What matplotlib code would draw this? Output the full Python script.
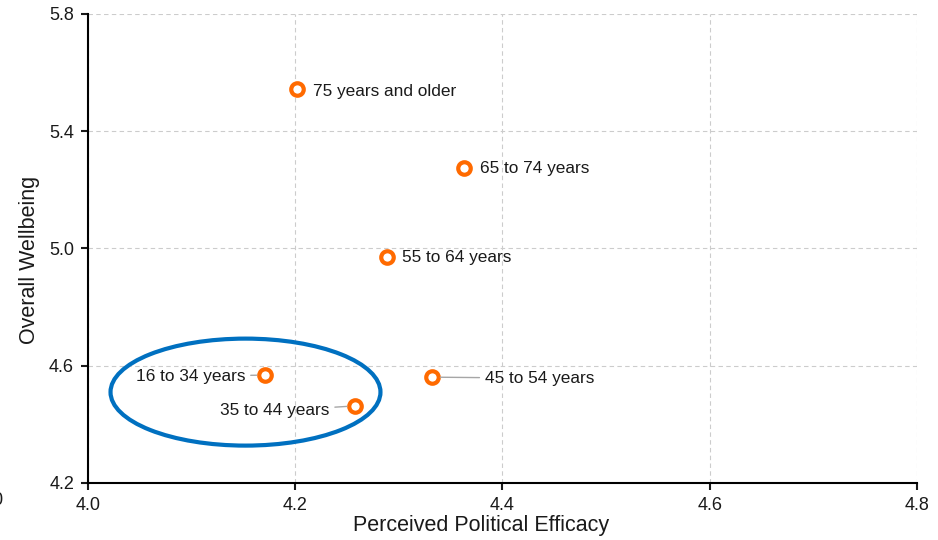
import matplotlib.pyplot as plt
from matplotlib.patches import Ellipse

plt.rcParams['font.family'] = ['Liberation Sans', 'DejaVu Sans']

# age groups and values
groups = ['75 years and older', '65 to 74 years', '55 to 64 years',
          '45 to 54 years', '16 to 34 years', '35 to 44 years']
efficacy = [4.202, 4.363, 4.289, 4.332, 4.171, 4.258]
wellbeing = [5.544, 5.275, 4.971, 4.561, 4.568, 4.463]

# label offsets in pixels (dx, dy) and whether a leader line is drawn
offsets = [(16, -2), (16, -1), (15, -1), (53, -1), (-20, -1), (-26, -5)]
aligns = ['left', 'left', 'left', 'left', 'right', 'right']
leaders = [False, False, False, True, True, True]

xticks = [4.0, 4.2, 4.4, 4.6, 4.8]
yticks = [4.2, 4.6, 5.0, 5.4, 5.8]

fig = plt.figure(figsize=(9.38, 5.4), dpi=100)
ax = fig.add_axes([0.0938, 0.1056, 0.8838, 0.8685])

ax.grid(True, color='#cccccc', linestyle='--', linewidth=0.8, dashes=(4, 3))
ax.set_axisbelow(True)

ax.plot(efficacy, wellbeing, 'o', markersize=9, markerfacecolor='white',
        markeredgecolor='#ff6a00', markeredgewidth=3, linestyle='none', zorder=3)

for name, x, y, off, ha, lead in zip(groups, efficacy, wellbeing, offsets, aligns, leaders):
    props = dict(arrowstyle='-', color='#a6a6a6', lw=1, shrinkA=2, shrinkB=6) if lead else None
    ax.annotate(name, (x, y), xytext=off, textcoords='offset pixels',
                ha=ha, va='center', fontsize=12.4, color='#1a1a1a',
                arrowprops=props, zorder=4)

ell = Ellipse((4.152, 4.510), 0.2605, 0.365, fill=False,
              edgecolor='#0070c0', linewidth=3, zorder=2)
ax.add_patch(ell)

ax.set_xlim(4.0, 4.8)
ax.set_ylim(4.2, 5.8)
ax.set_xticks(xticks)
ax.set_yticks(yticks)
ax.set_xticklabels([f'{v:.1f}' for v in xticks])
ax.set_yticklabels([f'{v:.1f}' for v in yticks])
ax.tick_params(direction='out', length=5, width=1.5, labelsize=13,
               colors='#1a1a1a', pad=5)

for s in ['top', 'right']:
    ax.spines[s].set_visible(False)
for s in ['left', 'bottom']:
    ax.spines[s].set_linewidth(1.5)
    ax.spines[s].set_color('black')

ax.set_xlabel('Perceived Political Efficacy', fontsize=15.5, color='#1a1a1a')
ax.xaxis.set_label_coords(0.4745, -0.068)
ax.set_ylabel('Overall Wellbeing', fontsize=15.5, color='#1a1a1a')
ax.yaxis.set_label_coords(-0.058, 0.476)

# clipped stray label at the far left edge
fig.text(-0.008, 0.074, '0', fontsize=13, color='#1a1a1a', ha='left', va='center')

fig.savefig('out.png', dpi=100)
